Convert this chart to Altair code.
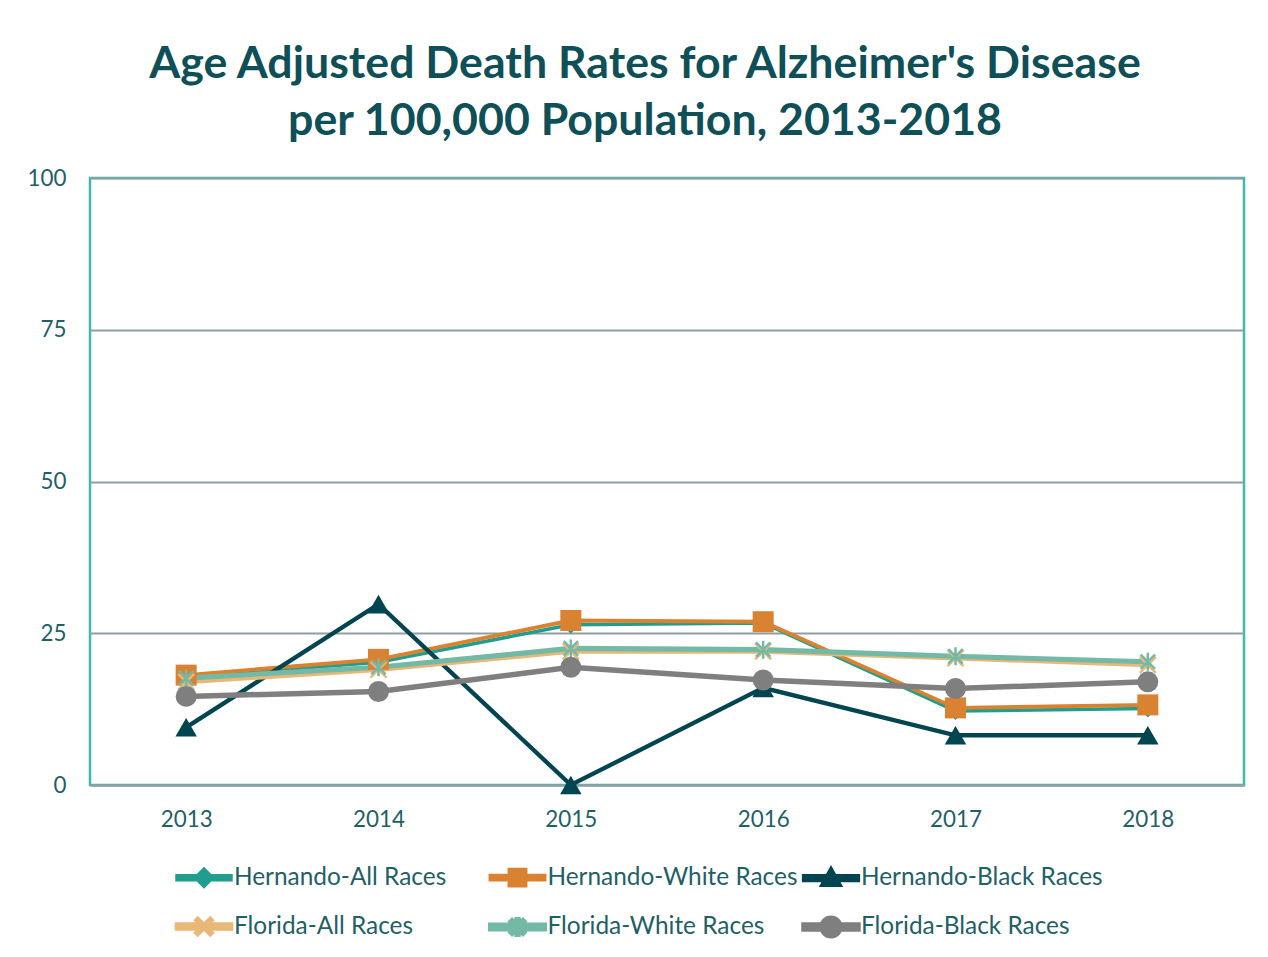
import math
import altair as alt
import pandas as pd

# ---------------- data ----------------
years = ["2013", "2014", "2015", "2016", "2017", "2018"]
series_names = [
    "Hernando-All Races",
    "Hernando-White Races",
    "Hernando-Black Races",
    "Florida-All Races",
    "Florida-White Races",
    "Florida-Black Races",
]
hernando_all = [17.8, 20.2, 26.4, 26.7, 12.2, 12.6]
hernando_white = [18.1, 20.7, 27.1, 26.9, 12.7, 13.2]
hernando_black = [9.5, 29.8, 0.0, 16.0, 8.2, 8.2]
florida_all = [17.0, 19.0, 22.0, 22.0, 20.9, 19.8]
florida_white = [17.6, 19.4, 22.5, 22.3, 21.2, 20.3]
florida_black = [14.6, 15.4, 19.4, 17.3, 15.9, 17.0]
y_ticks = [0, 25, 50, 75, 100]

values = [hernando_all, hernando_white, hernando_black,
          florida_all, florida_white, florida_black]

rows = []
for name, vals in zip(series_names, values):
    for yr, v in zip(years, vals):
        rows.append({"series": name, "year": yr, "rate": v})
df = pd.DataFrame(rows)

# ---------------- styles ----------------
colors = ["#1f9e8f", "#d98232", "#00454f", "#e8b878", "#74b9a6", "#7f7f7f"]
widths = [3.5, 5.5, 5, 3.5, 6.5, 5]
marker = ["diamond", "square", "triangle", "x", "asterisk", "circle"]

TEXT = "#0f4f58"
LABEL = "#1f5f66"
GRID = "#8f9ea3"
FRAME = "#3dbcae"
FONT = "Lato"

X_PATH = "M-1,-1L1,1M-1,1L1,-1"
AST_PATH = "M0,-1L0,1M-0.8,-0.8L0.8,0.8M-0.8,0.8L0.8,-0.8"
shape_path = {
    "diamond": ("diamond", True, 320),
    "square": ("square", True, 441),
    "triangle": ("triangle-up", True, 460),
    "x": (X_PATH, False, 256),
    "asterisk": (AST_PATH, False, 324),
    "circle": ("circle", True, 440),
}


# legend symbols: a line with a marker, as filled polygons (unit = half width)
def seg(x1, y1, x2, y2, w):
    dx, dy = x2 - x1, y2 - y1
    L = math.hypot(dx, dy)
    nx, ny = -dy / L * w / 2, dx / L * w / 2
    pts = [(x1 + nx, y1 + ny), (x2 + nx, y2 + ny), (x2 - nx, y2 - ny), (x1 - nx, y1 - ny)]
    return "M" + "L".join(f"{a:.3f},{b:.3f}" for a, b in pts) + "Z"


def poly(pts):
    return "M" + "L".join(f"{a:.3f},{b:.3f}" for a, b in pts) + "Z"


SYM = 54            # legend symbol width in px
k = 57 / SYM        # keep marker sizes in px as before
LW = 0.148
base = seg(-1, 0, 1, 0, LW)
legend_paths = []
for m in marker:
    if m == "square":
        s = 0.28 * k
        mk = poly([(-s, s), (s, s), (s, -s), (-s, -s)])
    elif m == "diamond":
        s = 0.3 * k
        mk = poly([(0, s), (s, 0), (0, -s), (-s, 0)])
    elif m == "triangle":
        s = 0.3 * k
        mk = poly([(-s, s * 0.8), (s, s * 0.8), (0, -s)])
    elif m == "circle":
        r = 0.31 * k
        pts = [(r * math.cos(-2 * math.pi * i / 28 + math.pi / 2),
                r * math.sin(-2 * math.pi * i / 28 + math.pi / 2)) for i in range(28)]
        mk = poly(pts)
    elif m == "x":
        s = 0.24 * k
        mk = seg(-s, -s, s, s, 0.06) + seg(-s, s, s, -s, 0.06)
    else:  # asterisk
        s = 0.26 * k
        mk = (seg(0, s, 0, -s, 0.05) + seg(-0.8 * s, -0.8 * s, 0.8 * s, 0.8 * s, 0.05)
              + seg(-0.8 * s, 0.8 * s, 0.8 * s, -0.8 * s, 0.05))
    legend_paths.append(base + mk)

# ---------------- chart ----------------
x_enc = alt.X(
    "year:O",
    scale=alt.Scale(type="point", padding=0.5),
    axis=alt.Axis(title=None, labelAngle=0, ticks=False, domainColor=GRID,
                  domainWidth=2, labelPadding=23, labelFontSize=22.4,
                  labelColor=LABEL, labelFont=FONT, grid=False),
)
y_enc = alt.Y(
    "rate:Q",
    scale=alt.Scale(domain=[0, 100], nice=False),
    axis=alt.Axis(title=None, values=y_ticks, ticks=False, domain=False,
                  labelPadding=24, labelFontSize=22.4, labelColor=LABEL,
                  labelFont=FONT, gridColor=GRID, gridWidth=2),
)

color_scale = alt.Scale(domain=series_names, range=colors)

legend = alt.Legend(
    title=None, orient="none", direction="horizontal", columns=3,
    legendX=84, legendY=668, symbolSize=SYM * SYM, symbolStrokeWidth=0,
    labelFont=FONT, labelFontSize=24.4, labelColor=LABEL, labelOffset=0,
    columnPadding=-4.5, rowPadding=1, gridAlign="all", labelLimit=400,
    symbolOpacity=1,
)
# invisible layer that only carries the legend (first, so its legend wins)
legend_layer = alt.Chart(df).mark_point(
    filled=True, size=SYM * SYM, opacity=0
).encode(
    x=x_enc,
    y=y_enc,
    color=alt.Color("series:N", scale=color_scale, legend=legend),
    shape=alt.Shape("series:N",
                    scale=alt.Scale(domain=series_names, range=legend_paths),
                    legend=legend),
)

lines = alt.Chart(df).mark_line().encode(
    x="year:O",
    y="rate:Q",
    color=alt.Color("series:N", scale=color_scale, legend=None),
    strokeWidth=alt.StrokeWidth("series:N",
                                scale=alt.Scale(domain=series_names, range=widths),
                                legend=None),
    order=alt.Order("year:O"),
)

point_layers = []
for name, m, c in zip(series_names, marker, colors):
    shp, filled, size = shape_path[m]
    kw = dict(shape=shp, filled=filled, size=size, color=c, opacity=1)
    if not filled:
        kw["strokeWidth"] = 2.5
    point_layers.append(
        alt.Chart(df).transform_filter(alt.datum.series == name)
        .mark_point(**kw).encode(x="year:O", y="rate:Q")
    )

chart = alt.layer(legend_layer, lines, *point_layers).properties(
    width=1154,
    height=607,
    padding={"left": 19, "top": 34, "right": 16, "bottom": 10},
    title=alt.Title(
        ["Age Adjusted Death Rates for Alzheimer's Disease",
         "per 100,000 Population, 2013-2018"],
        font=FONT, fontSize=44.7, fontWeight="bold", color=TEXT,
        lineHeight=57, anchor="middle", offset=22, dx=-22,
    ),
).configure_view(stroke=FRAME, strokeWidth=2.5)

chart.save("out.html", embed_options={"renderer": "svg", "actions": False})
